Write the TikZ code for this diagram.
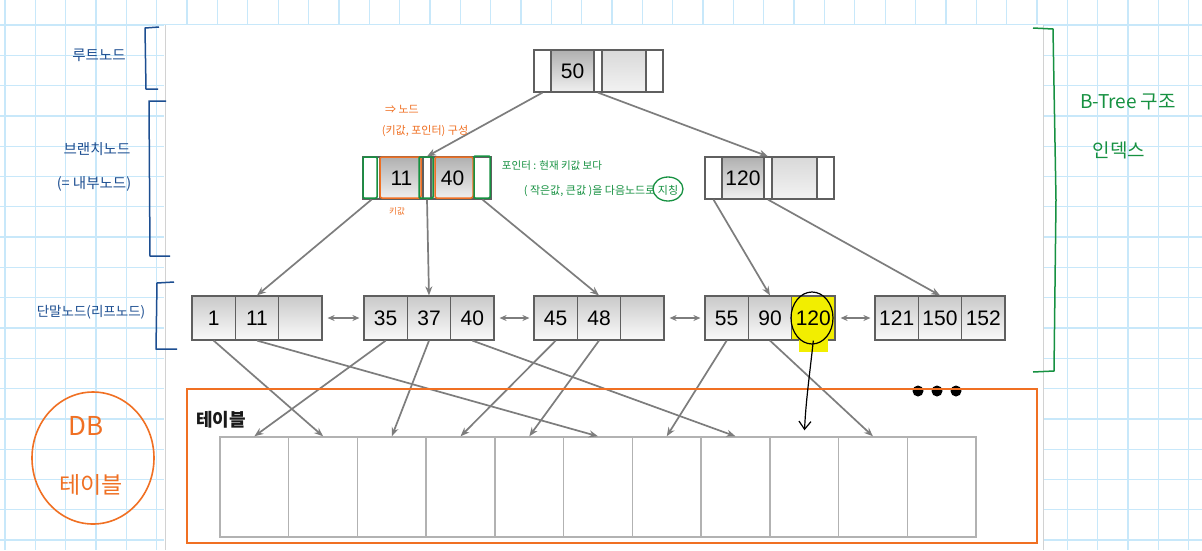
\documentclass[tikz,border=0pt]{standalone}
\usepackage{fontspec}
\setmainfont{Liberation Sans}
\newfontfamily\krfont{Noto Sans CJK KR}
\usetikzlibrary{arrows.meta}
\definecolor{gridblue}{RGB}{200,232,250}
\definecolor{hblue}{RGB}{28,78,145}
\definecolor{horange}{RGB}{240,112,35}
\definecolor{hgreen}{RGB}{22,145,65}
\definecolor{hlyellow}{RGB}{242,238,0}
\definecolor{cellborder}{RGB}{95,95,95}
\definecolor{arrowgray}{RGB}{125,125,125}
\newcommand\digitfont{\fontsize{21}{21}\selectfont}
\begin{document}
\begin{tikzpicture}[x=1pt,y=-1pt,
  gridline/.style={draw=gridblue, line width=1.3pt},
  ptr/.style={draw=cellborder, line width=1.2pt, fill=white, minimum height=42pt, inner sep=0pt},
  keyfull/.style={draw=cellborder, line width=1.2pt, top color=gray!62, bottom color=gray!12, minimum height=42pt, inner sep=0pt, font=\digitfont},
  keyempty/.style={draw=cellborder, line width=1.2pt, top color=gray!30, bottom color=gray!10, minimum height=42pt, inner sep=0pt},
  leafcell/.style={draw=cellborder, line width=1.2pt, top color=gray!42, bottom color=gray!4, minimum width=43.33pt, minimum height=44pt, inner sep=0pt, font=\digitfont},
  tcell/.style={draw=gray!60, line width=1.4pt, fill=white, minimum width=68.73pt, minimum height=100pt, inner sep=0pt},
  garrow/.style={draw=arrowgray, line width=1.7pt, -{Stealth[length=9pt,width=7pt]}},
  darrow/.style={draw=arrowgray, line width=1.5pt, {Stealth[length=7pt,width=6pt]}-{Stealth[length=7pt,width=6pt]}, shorten <=5pt, shorten >=4pt},
  hblueline/.style={draw=hblue, line width=1.5pt, line join=round},
  hbluetext/.style={text=hblue, font=\krfont\fontsize{14.5}{17}\selectfont, inner sep=0pt},
  horangetext/.style={text=horange, font=\krfont\fontsize{11}{13}\selectfont, inner sep=0pt},
  hgreentext/.style={text=hgreen, font=\krfont\fontsize{10.5}{13}\selectfont, inner sep=0pt},
  dot/.style={circle, fill=black, minimum size=11pt, inner sep=0pt}
]
\useasboundingbox (0,0) rectangle (1202,550);
% grid paper
\fill[white] (0,0) rectangle (1202,550);
\foreach \i in {0,...,39} \draw[gridline] (5+30.35*\i,0) -- (5+30.35*\i,550);
\foreach \j in {0,...,18} \draw[gridline] (0,25+30.3*\j) -- (1202,25+30.3*\j);
\fill[white] (164,25) rectangle (1043,550);
\draw[gray!35, line width=1pt] (165,25) -- (165,550);
\draw[gray!35, line width=1pt] (1043,25) -- (1043,550);

% root node
\node[ptr, minimum width=17pt] (r0) at (542.5,71) {};
\node[keyfull, minimum width=43pt] (r1) at (572.5,71) {50};
\node[ptr, minimum width=8pt] (r2) at (598,71) {};
\node[keyempty, minimum width=44pt] (r3) at (624,71) {};
\node[ptr, minimum width=17pt] (r4) at (654.5,71) {};

% branch left
\node[ptr, minimum width=17pt] (bl0) at (371.5,178) {};
\node[keyfull, minimum width=43pt] (bl1) at (401.5,178) {11};
\node[ptr, minimum width=8pt] (bl2) at (427,178) {};
\node[keyfull, minimum width=43pt] (bl3) at (452.5,178) {40};
\node[ptr, minimum width=17pt] (bl4) at (482.5,178) {};

% branch right
\node[ptr, minimum width=17pt] (br0) at (713.5,178) {};
\node[keyfull, minimum width=42pt] (br1) at (743,178) {120};
\node[ptr, minimum width=8pt] (br2) at (768,178) {};
\node[keyempty, minimum width=45pt] (br3) at (794.5,178) {};
\node[ptr, minimum width=17pt] (br4) at (825.5,178) {};

% leaves
\node[leafcell] (l1a) at (213.67,318) {1};
\node[leafcell] (l1b) at (257,318) {11};
\node[leafcell] (l1c) at (300.33,318) {};
\node[leafcell] (l2a) at (385.67,318) {35};
\node[leafcell] (l2b) at (429,318) {37};
\node[leafcell] (l2c) at (472.33,318) {40};
\node[leafcell] (l3a) at (555.67,318) {45};
\node[leafcell] (l3b) at (599,318) {48};
\node[leafcell] (l3c) at (642.33,318) {};
\node[leafcell] (l4a) at (726.67,318) {55};
\node[leafcell] (l4b) at (770,318) {90};
\node[leafcell, fill=hlyellow, top color=hlyellow, bottom color=hlyellow] (l4c) at (813.33,318) {120};
\fill[hlyellow] (799,339) rectangle (828,352);
\node[leafcell] (l5a) at (896.67,318) {121};
\node[leafcell] (l5b) at (940,318) {150};
\node[leafcell] (l5c) at (983.33,318) {152};

% tree arrows
\draw[garrow] (r0.south) -- (bl2.north);
\draw[garrow] (r2.south) -- (br2.north);
\draw[garrow] (bl0.south) -- (l1b.north);
\draw[garrow] (bl2.south) -- (l2b.north);
\draw[garrow] (bl4.south) -- (l3b.north);
\draw[garrow] (br0.south) -- (l4b.north);
\draw[garrow] (br2.south) -- (l5b.north);

% leaf links
\draw[darrow] (l1c.east) -- (l2a.west);
\draw[darrow] (l2c.east) -- (l3a.west);
\draw[darrow] (l3c.east) -- (l4a.west);
\draw[darrow] (l4c.east) -- (l5a.west);

% table
\foreach \i in {1,...,11} \node[tcell] (t\i) at (220+68.73*\i-34.365,487) {};
\node[text=gray!20!black, font=\krfont\bfseries\fontsize{18}{20}\selectfont, inner sep=0pt] (tlabel) at (221,420) {테이블};

% leaf -> table arrows
\draw[garrow] (l2a.south) -- (t1.north);
\draw[garrow] (l1a.south) -- (t2.north);
\draw[garrow] (l2b.south) -- (t3.north);
\draw[garrow] (l3a.south) -- (t4.north);
\draw[garrow] (l3b.south) -- (t5.north);
\draw[garrow] (l1b.south) -- (t6.north);
\draw[garrow] (l4a.south) -- (t7.north);
\draw[garrow] (l2c.south) -- (t8.north);
\draw[garrow] (l4b.south) -- (t10.north);

% dots
\node[dot] (d1) at (918,391) {};
\node[dot] (d2) at (937,391) {};
\node[dot] (d3) at (956,391) {};

% orange frame around table
\node[draw=horange, line width=1.6pt, minimum width=850pt, minimum height=154pt, inner sep=0pt] (frame) at (612,466) {};

% handwritten: highlight circle and arrow
\draw[black, line width=1.2pt] (812,318) ellipse [x radius=21, y radius=26];
\draw[black, line width=1.2pt, shorten >=6pt, -{Straight Barb[length=8pt,width=12pt]}] (l4c.south) .. controls (809,380) and (806,400) .. (t9.north);

% handwritten: left labels (blue)
\draw[hblueline] (159,27) -- (145,28) -- (146,89) -- (158,89);
\draw[hblueline] (166,101) -- (149,101) -- (150,256) -- (170,256);
\draw[hblueline] (174,282) -- (157,283) -- (156,349) -- (177,349);
\node[hbluetext] (lroot) at (99,55) {루트노드};
\node[hbluetext] (lbranch) at (97,149) {브랜치노드};
\node[hbluetext] (linner) at (94,184) {(= 내부노드)};
\node[hbluetext, font=\krfont\fontsize{13.5}{16}\selectfont] (lleaf) at (91,312) {단말노드(리프노드)};

% handwritten: DB table (orange)
\draw[horange, line width=1.6pt] (93,458) ellipse [x radius=61, y radius=66];
\node[text=horange, font=\krfont\fontsize{26}{28}\selectfont, inner sep=0pt] (ldb) at (86,426) {DB};
\node[text=horange, font=\krfont\fontsize{23}{26}\selectfont, inner sep=0pt] (ltable) at (91,485) {테이블};

% handwritten: orange node annotations
\draw[horange, line width=1.5pt, rounded corners=2pt] (380,157) rectangle (421,198);
\draw[horange, line width=1.5pt, rounded corners=2pt] (435,157) rectangle (473,198);
\node[horangetext] (onode) at (402,109) {⇒ 노드};
\node[horangetext] (okp) at (425,131) {(키값, 포인터) 구성};
\node[horangetext, font=\krfont\fontsize{8.5}{10}\selectfont] (okey) at (397,211) {키값};

% handwritten: green pointer annotations
\draw[hgreen, line width=1.5pt, rounded corners=1pt] (363,157) rectangle (377,198);
\draw[hgreen, line width=1.5pt, rounded corners=1pt] (419,157) rectangle (433,198);
\draw[hgreen, line width=1.5pt, rounded corners=1pt] (474,156) rectangle (490,198);
\node[hgreentext] (gp1) at (552,166) {포인터 : 현재 키값 보다};
\node[hgreentext, font=\krfont\fontsize{11}{13}\selectfont] (gp2) at (601,191) {( 작은값, 큰값 )을 다음노드로 지칭};
\draw[hgreen, line width=1.3pt] (668,189) ellipse [x radius=15, y radius=12];

% handwritten: B-Tree structure (green)
\draw[hgreen, line width=1.5pt, line join=round] (1033,28) -- (1053,29) -- (1056,200) -- (1054,371) -- (1033,372);
\node[text=hgreen, font=\krfont\fontsize{19}{22}\selectfont, inner sep=0pt] (gbt) at (1128,102) {B-Tree 구조};
\node[text=hgreen, font=\krfont\fontsize{19}{22}\selectfont, inner sep=0pt] (gidx) at (1119,150) {인덱스};
\end{tikzpicture}
\end{document}
